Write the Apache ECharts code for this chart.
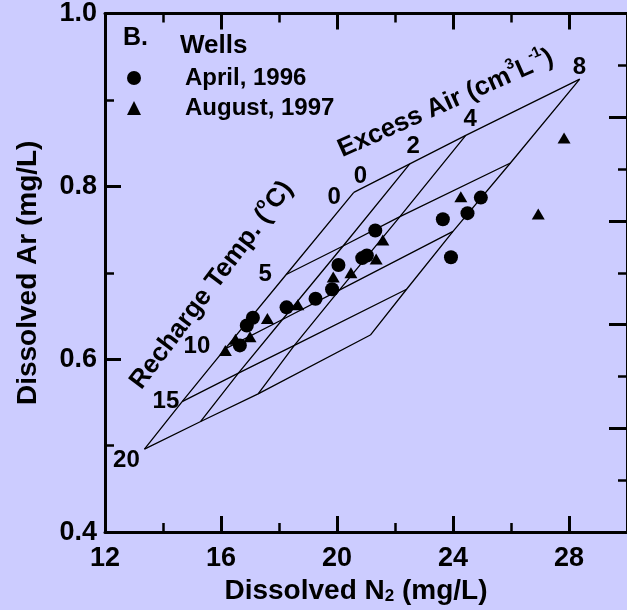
<!DOCTYPE html>
<html>
<head>
<meta charset="utf-8">
<script src="https://cdn.jsdelivr.net/npm/echarts@6/dist/echarts.min.js"></script>
<style>
  html, body { margin: 0; padding: 0; background: #CCCCFF; }
  #chart { width: 627px; height: 610px; }
</style>
</head>
<body>
<div id="chart"></div>
<script>
// Dissolved N2 vs Ar, with recharge-temperature / excess-air mesh

const FONT = '"Liberation Sans", Arial, Helvetica, sans-serif';
const INK = '#000000';

// mesh vertices: one row per recharge temp, columns = excess air 0, 2, 4, 8
const tempLevels = ['0', '5', '10', '15', '20'];
const airLevels = ['0', '2', '4', '8'];
const meshT0  = [[20.58, 0.793], [22.51, 0.826], [24.44, 0.859], [28.37, 0.924]];
const meshT5  = [[18.25, 0.698], [20.21, 0.731], [22.17, 0.765], [25.98, 0.827]];
const meshT10 = [[16.14, 0.612], [18.12, 0.646], [20.08, 0.680], [24.00, 0.748]];
const meshT15 = [[14.66, 0.551], [16.60, 0.584], [18.53, 0.616], [22.40, 0.681]];
const meshT20 = [[13.36, 0.496], [15.30, 0.528], [17.28, 0.560], [21.15, 0.628]];

// wells
const april1996 = [
  [16.65, 0.616], [16.89, 0.639], [17.10, 0.648], [18.26, 0.660], [19.26, 0.670],
  [19.83, 0.681], [20.05, 0.709], [20.87, 0.717], [21.03, 0.720], [21.32, 0.749],
  [23.65, 0.762], [23.93, 0.718], [24.50, 0.769], [24.96, 0.787],
];
const august1997 = [
  [16.15, 0.610], [16.50, 0.623], [17.00, 0.626], [17.60, 0.647], [18.65, 0.663],
  [19.87, 0.695], [20.48, 0.700], [21.35, 0.716], [21.58, 0.738], [24.27, 0.788],
  [26.94, 0.768], [27.83, 0.856],
];

// label anchors (data coords)
const tempLabelPos = [[19.90, 0.787], [17.52, 0.698], [15.17, 0.6145], [14.10, 0.551], [12.74, 0.483]];
const airLabelPos = [[20.81, 0.812], [22.63, 0.8465], [24.59, 0.877], [28.36, 0.938]];
const rechargeTitlePos = [15.62, 0.687];
const excessTitlePos = [23.72, 0.898];

const meshRows = [meshT0, meshT5, meshT10, meshT15, meshT20];
const meshCols = airLevels.map((_, j) => meshRows.map(r => r[j]));

const MESH_LINE = { color: INK, width: 1.3 };

function meshSeries(data) {
  return {
    type: 'line', data, symbol: 'none', silent: true,
    lineStyle: MESH_LINE, z: 2, animation: false,
  };
}

const boldText = (size) => ({ fontFamily: FONT, fontWeight: 'bold', fontSize: size, color: INK });

const TICK = { inside: true, length: 16, lineStyle: { color: INK, width: 3 } };
const MINOR = { show: true, splitNumber: 2, length: 9, lineStyle: { color: INK, width: 2.5 } };
const LINE = { onZero: false, lineStyle: { color: INK, width: 3 } };

const numLabel = (text, pos) => ({
  value: pos,
  label: { show: true, position: 'inside', formatter: text, ...boldText(24) },
});

const TITLE_RICH = {
  a: { ...boldText(26), lineHeight: 30, verticalAlign: 'bottom' },
  s: { ...boldText(15), lineHeight: 14, verticalAlign: 'top' },
};

const annotations = [
  ...tempLevels.map((t, i) => numLabel(t, tempLabelPos[i])),
  ...airLevels.map((a, i) => numLabel(a, airLabelPos[i])),
  {
    value: rechargeTitlePos,
    label: {
      show: true, position: 'inside', rotate: 53, color: INK,
      formatter: '{a|Recharge Temp. (}{s|o}{a|C)}', rich: TITLE_RICH,
    },
  },
  {
    value: excessTitlePos,
    label: {
      show: true, position: 'inside', rotate: 24, color: INK,
      formatter: '{a|Excess Air (cm}{s|3}{a|L}{s|-1}{a|)}', rich: TITLE_RICH,
    },
  },
];

const chart = echarts.init(document.getElementById('chart'), null, { renderer: 'canvas' });

chart.setOption({
  backgroundColor: '#CCCCFF',
  animation: false,
  grid: { left: 105, right: -6, top: 10.5, bottom: 74.3 },
  legend: {
    orient: 'vertical', left: 127, top: 66, padding: 0,
    itemWidth: 14, itemHeight: 14, itemGap: 6,
    selectedMode: false,
    data: [{ name: 'April, 1996', icon: 'circle' }, { name: 'August, 1997', icon: 'triangle' }],
    itemStyle: { color: INK, opacity: 1 },
    textStyle: { ...boldText(24), padding: [0, 0, 0, 39] },
  },
  graphic: [
    { type: 'text', left: 123, top: 26, style: { text: 'B.', font: 'bold 25px ' + FONT, fill: INK } },
    { type: 'text', left: 180, top: 33, style: { text: 'Wells', font: 'bold 26px ' + FONT, fill: INK } },
  ],
  xAxis: [
    {
      type: 'value', position: 'bottom', min: 12, max: 30, interval: 4,
      axisLine: LINE, axisTick: TICK, minorTick: MINOR,
      splitLine: { show: false },
      axisLabel: { ...boldText(27), margin: 13, showMaxLabel: false },
      name: '{a|Dissolved N}{s|2}{a| (mg/L)}',
      nameLocation: 'middle', nameGap: 42,
      nameTextStyle: {
        padding: [0, 20, 0, 0],
        rich: {
          a: { ...boldText(28), lineHeight: 30, verticalAlign: 'bottom' },
          s: { ...boldText(17), lineHeight: 13, verticalAlign: 'bottom' },
        },
      },
    },
    {
      type: 'value', position: 'top', min: 12, max: 30, interval: 4,
      axisLine: LINE, axisTick: TICK, minorTick: MINOR,
      splitLine: { show: false }, axisLabel: { show: false },
    },
  ],
  yAxis: [
    {
      type: 'value', position: 'left', min: 0.4, max: 1.0, interval: 0.2,
      axisLine: LINE, axisTick: TICK, minorTick: MINOR,
      splitLine: { show: false },
      axisLabel: { ...boldText(27), margin: 8, formatter: v => v.toFixed(1) },
      name: 'Dissolved Ar (mg/L)',
      nameLocation: 'middle', nameGap: 63,
      nameTextStyle: boldText(28),
    },
    {
      type: 'value', position: 'right', min: 0, max: 5, interval: 1,
      axisLine: LINE, axisTick: { ...TICK, length: 18 }, minorTick: MINOR,
      splitLine: { show: false }, axisLabel: { show: false },
    },
  ],
  series: [
    ...meshRows.map(meshSeries),
    ...meshCols.map(meshSeries),
    {
      name: 'April, 1996', type: 'scatter', data: april1996,
      symbol: 'circle', symbolSize: 14, itemStyle: { color: INK, opacity: 1 }, z: 5,
    },
    {
      name: 'August, 1997', type: 'scatter', data: august1997,
      symbol: 'triangle', symbolSize: [13, 11], itemStyle: { color: INK, opacity: 1 }, z: 5,
    },
    {
      type: 'scatter', data: annotations, symbolSize: 0, silent: true,
      itemStyle: { color: INK, opacity: 1 }, z: 6,
    },
  ],
});
</script>
</body>
</html>
